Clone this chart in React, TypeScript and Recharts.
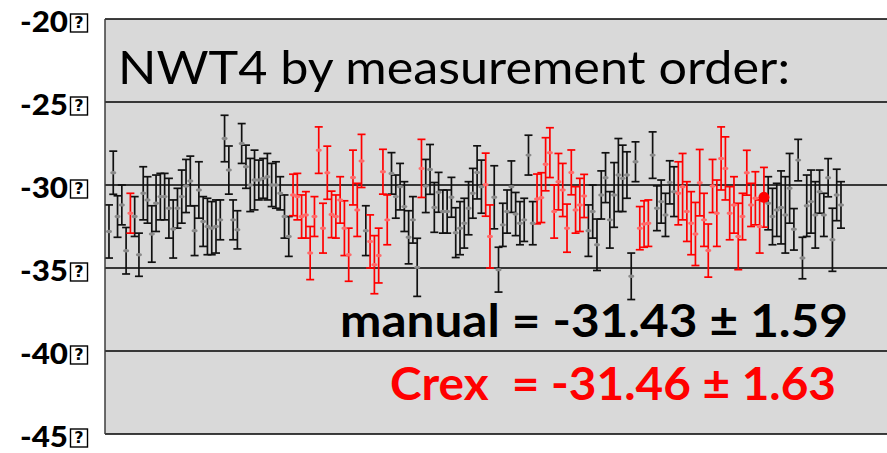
import React from "react";
import { ComposedChart, Scatter, ErrorBar, XAxis, YAxis, CartesianGrid } from "recharts";

// d13C of NWT4, in measurement order, with 1-sigma error bars
const values = [
  -32.8, -29.26, -31.9, -31.2, -33.96, -31.7, -31.9, -34.2, -30.5, -30.9, -32.95, -31.1, -30.7, -30.7, -31.4, -32.65, -31.4,
  -30.7, -30.06, -29.76, -32.75, -30.3, -32.2, -32.5, -32.6, -32.5, -32.1, -27.2, -29.1, -32.1, -32.7, -27.5, -28.9, -30.0, -29.7, -29.7, -29.6,
  -29.5, -30.0, -30.0, -30.5, -31.9, -33.1, -30.6, -30.7, -31.9, -31.8, -34.1, -31.9, -27.9, -32.6, -29.26, -31.77, -31.9,
  -30.9, -32.6, -34.2, -29.55, -31.5, -28.55, -32.75, -33.4, -34.8, -34.25, -29.2, -32.1, -29.3, -30.7, -30.1, -31.3, -33.15,
  -32.1, -34.96, -29.0, -30.06, -29.06, -31.35, -30.44, -31.6, -31.6, -30.74, -32.87, -32.6, -32.3, -31.4, -30.5, -29.24, -30.1,
  -29.98, -33.1, -30.74, -35.1, -32.4, -31.6, -30.1, -31.75, -32.3, -32.1, -28.2, -32.3, -30.84, -30.76, -28.75, -28.05, -31.6,
  -29.8, -30.3, -32.6, -29.24, -31.5, -31.2, -30.66, -32.75, -31.6, -33.6, -30.6, -29.56, -32.1, -30.6, -29.4, -29.6, -29.4,
  -35.5, -28.6, -32.6, -32.35, -32.3, -28.2, -31.4, -31.0, -31.8, -29.84, -30.4, -30.5, -30.1, -31.6, -32.3, -32.95, -29.86,
  -32.1, -33.95, -30.06, -31.7, -28.4, -29.0, -31.7, -31.2, -33.1, -31.9, -29.26, -31.2, -30.8, -32.5, -30.74,
  -31.1, -31.9, -31.5, -31.35, -31.8, -30.2, -32.67, -28.5, -34.4, -31.25, -31.0, -31.8, -30.4, -31.8, -29.56, -33.3, -30.6, -31.2,
];

const errors = [
  1.6, 1.3, 1.25, 1.2, 1.4, 1.2, 1.2, 1.3, 1.6, 1.4, 1.7, 1.7, 1.4, 1.4, 1.8, 1.75, 1.2,
  1.6, 1.6, 1.5, 1.5, 1.7, 1.5, 1.7, 1.6, 1.6, 1.2, 1.4, 1.45, 1.2, 1.15, 1.2, 1.3, 1.6, 1.8, 1.2, 1.2,
  1.4, 1.3, 1.4, 1.0, 1.3, 1.2, 1.25, 1.4, 1.3, 1.4, 1.6, 1.2, 1.4, 1.5, 1.6, 1.4, 1.3,
  1.4, 1.65, 1.6, 1.65, 1.6, 1.6, 1.5, 1.6, 1.75, 1.65, 1.35, 1.5, 1.25, 1.3, 1.4, 1.5, 1.6,
  1.4, 1.75, 1.75, 1.6, 1.5, 1.5, 1.2, 1.3, 1.3, 1.2, 1.5, 1.6, 1.5, 1.6, 1.5, 1.6, 1.6,
  1.9, 1.9, 1.9, 1.35, 1.3, 1.3, 1.55, 1.3, 1.3, 1.3, 1.2, 1.3, 1.5, 1.5, 1.6, 1.5, 1.6,
  1.7, 1.6, 1.45, 1.35, 1.4, 1.6, 1.3, 1.55, 1.6, 1.55, 1.45, 1.5, 1.7, 1.95, 2.2, 2.0, 1.4,
  1.4, 1.2, 1.3, 1.4, 1.4, 1.4, 1.35, 1.3, 1.3, 1.3, 1.5, 1.9, 2.0, 1.8, 1.9, 1.9, 2.0,
  1.6, 1.6, 1.6, 2.0, 1.9, 1.9, 1.6, 1.7, 2.0, 1.4, 1.35, 1.3, 1.6, 1.6, 1.8,
  1.6, 1.7, 1.6, 2.2, 2.3, 2.1, 1.25, 1.25, 1.25, 1.85, 1.9, 2.0, 1.3, 1.3, 1.15, 1.9, 1.55, 1.4,
];

// m = manual, c = Crex
const source = [
  "mmmmmcmmmmmmmmmmm", "mmmmmmmmmmmmmmmmmmmm",
  "mmmmmm", "ccccccccccccccccc", "m", "ccccc", "mmmmm",
  "mmc", "mmmmmmmmmmmmmm", "cc", "mmmmmmmmmm", "ccccc",
  "ccccccc", "mmmmmmmmmmmm", "ccc", "mmmmmm", "cccccc",
  "ccccccccccccccc", "mmmmmmmmmmmmmmmmmm",
].join("").split("");

const selectedRun = 153;
const yTicks = [-45, -40, -35, -30, -25, -20];

const rows = values.map((v, i) => ({ i, v, err: errors[i], src: source[i] }));
const manualRows = rows.filter((r) => r.src === "m");
const crexRows = rows.filter((r) => r.src === "c");
const selectedRows = rows.filter((r) => r.i === selectedRun);

const FONT = "Lato, 'Open Sans', sans-serif";

// tick value followed by the missing-glyph box of the unit sign
function YTick(props: any) {
  const { y, payload } = props;
  return (
    <g>
      <text x={20} y={y + 13} fontFamily={FONT} fontWeight={900} fontSize={29} fill="#000"
        textLength={48} lengthAdjust="spacingAndGlyphs">
        {payload.value}
      </text>
      <rect x={70.5} y={y - 5} width={17} height={18} fill="#fff" stroke="#000" strokeWidth={1.4} />
      <text x={79} y={y + 9} textAnchor="middle" fontFamily="DejaVu Sans, sans-serif" fontWeight={700} fontSize={16} fill="#000">
        ?
      </text>
    </g>
  );
}

const manualDot = (p: any) => <ellipse cx={p.cx} cy={p.cy} rx={3} ry={1.7} fill="#8a8a8a" />;
const crexDot = (p: any) => <ellipse cx={p.cx} cy={p.cy} rx={3} ry={1.7} fill="#ff6a6a" />;
const bigDot = (p: any) => <circle cx={p.cx} cy={p.cy} r={5.5} fill="#ff0000" />;

export default function App() {
  return (
    <div style={{ position: "absolute", left: 0, top: 0, width: 887, height: 453, background: "#fff" }}>
      <ComposedChart width={887} height={453} margin={{ top: 19, right: 0, bottom: 19, left: 0 }}>
        <CartesianGrid vertical={false} fill="#d9d9d9" stroke="#000" strokeWidth={1.3} strokeOpacity={1} />
        <XAxis type="number" dataKey="i" domain={[-0.93, 181.75]} hide />
        <YAxis
          type="number"
          domain={[-45, -20]}
          ticks={yTicks}
          allowDataOverflow
          width={105}
          tickLine={false}
          axisLine={{ stroke: "#3c3c3c", strokeWidth: 1.5 }}
          tick={<YTick />}
        />
        <Scatter data={manualRows} dataKey="v" shape={manualDot} isAnimationActive={false}>
          <ErrorBar dataKey="err" direction="y" width={4} stroke="#111" strokeWidth={1.7} isAnimationActive={false} />
        </Scatter>
        <Scatter data={crexRows} dataKey="v" shape={crexDot} isAnimationActive={false}>
          <ErrorBar dataKey="err" direction="y" width={4} stroke="#ff0000" strokeWidth={1.7} isAnimationActive={false} />
        </Scatter>
        <Scatter data={selectedRows} dataKey="v" shape={bigDot} isAnimationActive={false} />
      </ComposedChart>
      <svg width={887} height={453} style={{ position: "absolute", left: 0, top: 0, pointerEvents: "none" }}>
        <text x={118} y={84} fontFamily={FONT} fontSize={46} fill="#000" textLength={672} lengthAdjust="spacingAndGlyphs">
          NWT4 by measurement order:
        </text>
        <text x={340} y={337} fontFamily={FONT} fontWeight={700} fontSize={46} fill="#000" textLength={508} lengthAdjust="spacingAndGlyphs">
          manual = -31.43 ± 1.59
        </text>
        <text x={390} y={400} fontFamily={FONT} fontWeight={700} fontSize={46} fill="#ff0000" textLength={446} lengthAdjust="spacingAndGlyphs"
          style={{ whiteSpace: "pre" }}>
          Crex  = -31.46 ± 1.63
        </text>
      </svg>
    </div>
  );
}
